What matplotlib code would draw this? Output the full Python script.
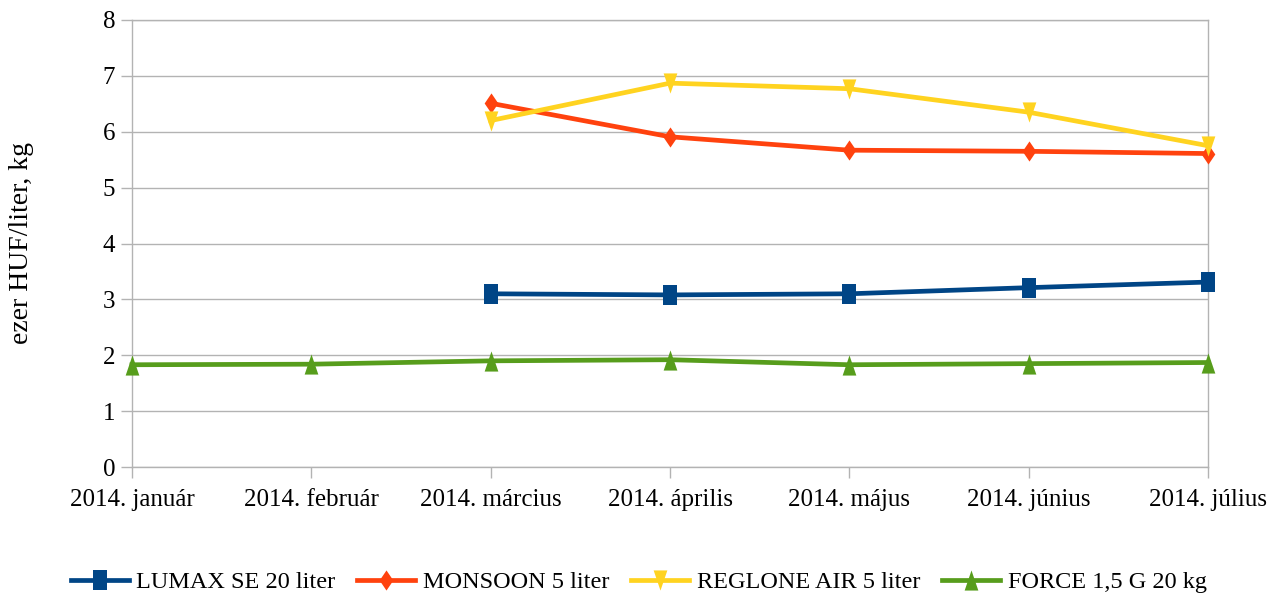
import matplotlib
matplotlib.use("Agg")
import matplotlib.pyplot as plt
import numpy as np

months = ["2014. január", "2014. február", "2014. március", "2014. április",
          "2014. május", "2014. június", "2014. július"]
lumax = [None, None, 3.10, 3.08, 3.10, 3.21, 3.31]
monsoon = [None, None, 6.51, 5.91, 5.67, 5.65, 5.61]
reglone = [None, None, 6.20, 6.87, 6.77, 6.35, 5.75]
force = [1.83, 1.84, 1.90, 1.92, 1.83, 1.85, 1.87]

# narrow, tall marker shapes (width ~ 0.68 of height)
w = 0.68
sq = [(-w, -1), (w, -1), (w, 1), (-w, 1), (-w, -1)]
dia = [(0, 1), (w, 0), (0, -1), (-w, 0), (0, 1)]
tri_dn = [(-w, 1), (w, 1), (0, -1), (-w, 1)]
tri_up = [(-w, -1), (w, -1), (0, 1), (-w, -1)]

series = [
    ("LUMAX SE 20 liter", lumax, "#004586", sq),
    ("MONSOON 5 liter", monsoon, "#ff420e", dia),
    ("REGLONE AIR 5 liter", reglone, "#ffd320", tri_dn),
    ("FORCE 1,5 G 20 kg", force, "#579d1c", tri_up),
]

plt.rcParams['font.family'] = ['Liberation Serif', 'DejaVu Serif']

fig = plt.figure(figsize=(12.77, 6.0), dpi=100)
ax = fig.add_axes([132/1277, 1 - 467/600, (1208 - 132)/1277, (467 - 20)/600])

x = np.arange(len(months))
for name, vals, color, marker in series:
    v = np.array([np.nan if a is None else a for a in vals], dtype=float)
    ax.plot(x, v, color=color, lw=3.4, marker=marker, ms=14.5, mew=0, label=name,
            clip_on=False, zorder=3)

grid_c = "#b3b3b3"
ax.set_xlim(0, 6)
ax.set_ylim(0, 8)
ax.set_yticks(range(0, 9))
ax.set_xticks(x)
ax.set_xticklabels(months)
ax.yaxis.grid(True, color=grid_c, lw=1)
ax.set_axisbelow(True)
for s in ax.spines.values():
    s.set_color(grid_c)
    s.set_linewidth(1)
ax.tick_params(axis='both', color=grid_c, length=8, width=1, labelsize=18)
ax.tick_params(axis='y', pad=4)
ax.tick_params(axis='x', pad=8)
ax.set_ylabel("ezer HUF/liter, kg", fontsize=20)
ax.yaxis.set_label_coords((34 - 132) / 1076, 0.5)

leg = fig.legend(loc='center', bbox_to_anchor=(0.5, 1 - 582/600), ncol=4,
                 frameon=False, fontsize=17.5, handlelength=2.4, handletextpad=0.3,
                 columnspacing=0.9)

fig.savefig("out.png", dpi=100)
